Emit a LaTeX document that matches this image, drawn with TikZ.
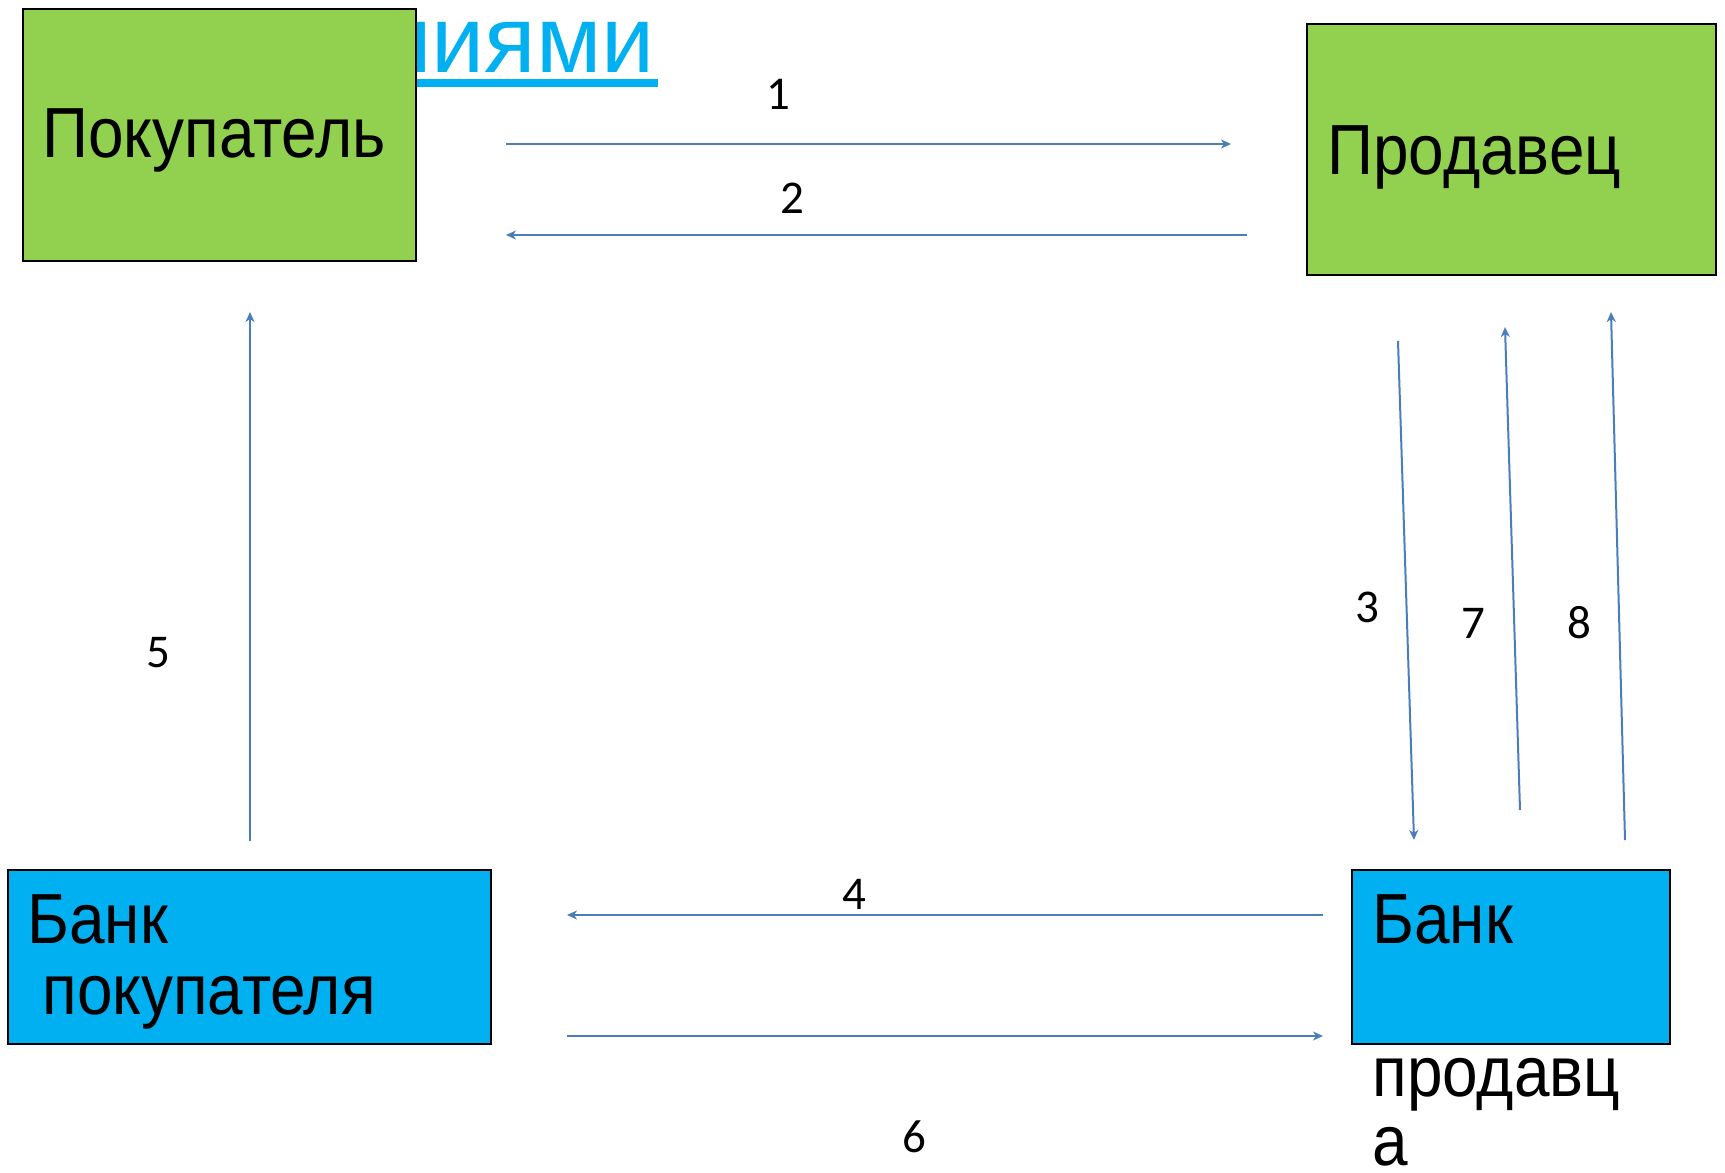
\documentclass[tikz,border=0pt]{standalone}
\usepackage{fontspec}
\setmainfont[FakeStretch=0.9]{Liberation Sans}
\newfontfamily\titlefont{Liberation Sans}
\newfontfamily\digitfont{Carlito}
\usetikzlibrary{arrows.meta}
\definecolor{boxgreen}{HTML}{92D050}
\definecolor{boxcyan}{HTML}{00B0F0}
\definecolor{arrowblue}{HTML}{4A7EBB}
\tikzset{
  px/.style={x={(0.5pt,0)},y={(0,-0.5pt)}},
  greenbox/.style={draw=black,line width=1pt,fill=boxgreen,inner sep=0pt},
  cyanbox/.style={draw=black,line width=1pt,fill=boxcyan,inner sep=0pt},
  boxtext/.style={anchor=base west,inner sep=0pt,font=\fontsize{35.5pt}{42pt}\selectfont},
  numlabel/.style={inner sep=0pt,font=\digitfont\fontsize{23.5pt}{28pt}\selectfont},
  flow/.style={draw=arrowblue,line width=1pt,-{Stealth[length=5pt,width=4.5pt,inset=1.5pt]}},
}
\begin{document}
\begin{tikzpicture}[px]
\useasboundingbox (0,0) rectangle (1725,1173);
% partially hidden title
\node[anchor=base east,inner sep=0pt,text=boxcyan,font=\titlefont\fontsize{47.5pt}{57pt}\selectfont] (title) at (655,72) {ниями};
\fill[boxcyan] (300,79) rectangle (658,87);
% boxes
\node[greenbox,minimum width=196.5pt,minimum height=126pt] (buyer) at (219.5,135) {};
\node[greenbox,minimum width=204.5pt,minimum height=125.5pt] (seller) at (1511.5,149.5) {};
\node[cyanbox,minimum width=241.5pt,minimum height=87pt] (bbank) at (249.5,957) {};
\node[cyanbox,minimum width=159pt,minimum height=87pt] (sbank) at (1511,957) {};
% texts
\node[boxtext] (tbuyer) at (42,157) {Покупатель};
\node[boxtext] (tseller) at (1327,174) {Продавец};
\node[boxtext] (tbb1) at (27,943) {Банк};
\node[boxtext] (tbb2) at (42,1014) {покупателя};
\node[boxtext] (tsb1) at (1372,943) {Банк};
\node[boxtext] (tsb2) at (1372,1096) {продавц};
\node[boxtext] (tsb3) at (1372,1165) {а};
% connector end points
\coordinate (a1s) at (506,144);  \coordinate (a1e) at (1231,144);
\coordinate (a2s) at (1247,235); \coordinate (a2e) at (506,235);
\coordinate (a5s) at (250,841);  \coordinate (a5e) at (250,312);
\coordinate (a3s) at (1398,341); \coordinate (a3e) at (1414,840);
\coordinate (a7s) at (1520,810); \coordinate (a7e) at (1505,327);
\coordinate (a8s) at (1625,840); \coordinate (a8e) at (1611,312);
\coordinate (a4s) at (1323,915); \coordinate (a4e) at (567,915);
\coordinate (a6s) at (567,1036); \coordinate (a6e) at (1323,1036);
\draw[flow] (a1s) -- (a1e);
\draw[flow] (a2s) -- (a2e);
\draw[flow] (a5s) -- (a5e);
\draw[flow] (a3s) -- (a3e);
\draw[flow] (a7s) -- (a7e);
\draw[flow] (a8s) -- (a8e);
\draw[flow] (a4s) -- (a4e);
\draw[flow] (a6s) -- (a6e);
% labels
\node[numlabel] (n1) at (778,94) {1};
\node[numlabel] (n2) at (792,198) {2};
\node[numlabel] (n3) at (1367,607) {3};
\node[numlabel] (n4) at (854,894) {4};
\node[numlabel] (n5) at (158,653) {5};
\node[numlabel] (n6) at (914,1137) {6};
\node[numlabel] (n7) at (1473,623) {7};
\node[numlabel] (n8) at (1579,623) {8};
\end{tikzpicture}
\end{document}
